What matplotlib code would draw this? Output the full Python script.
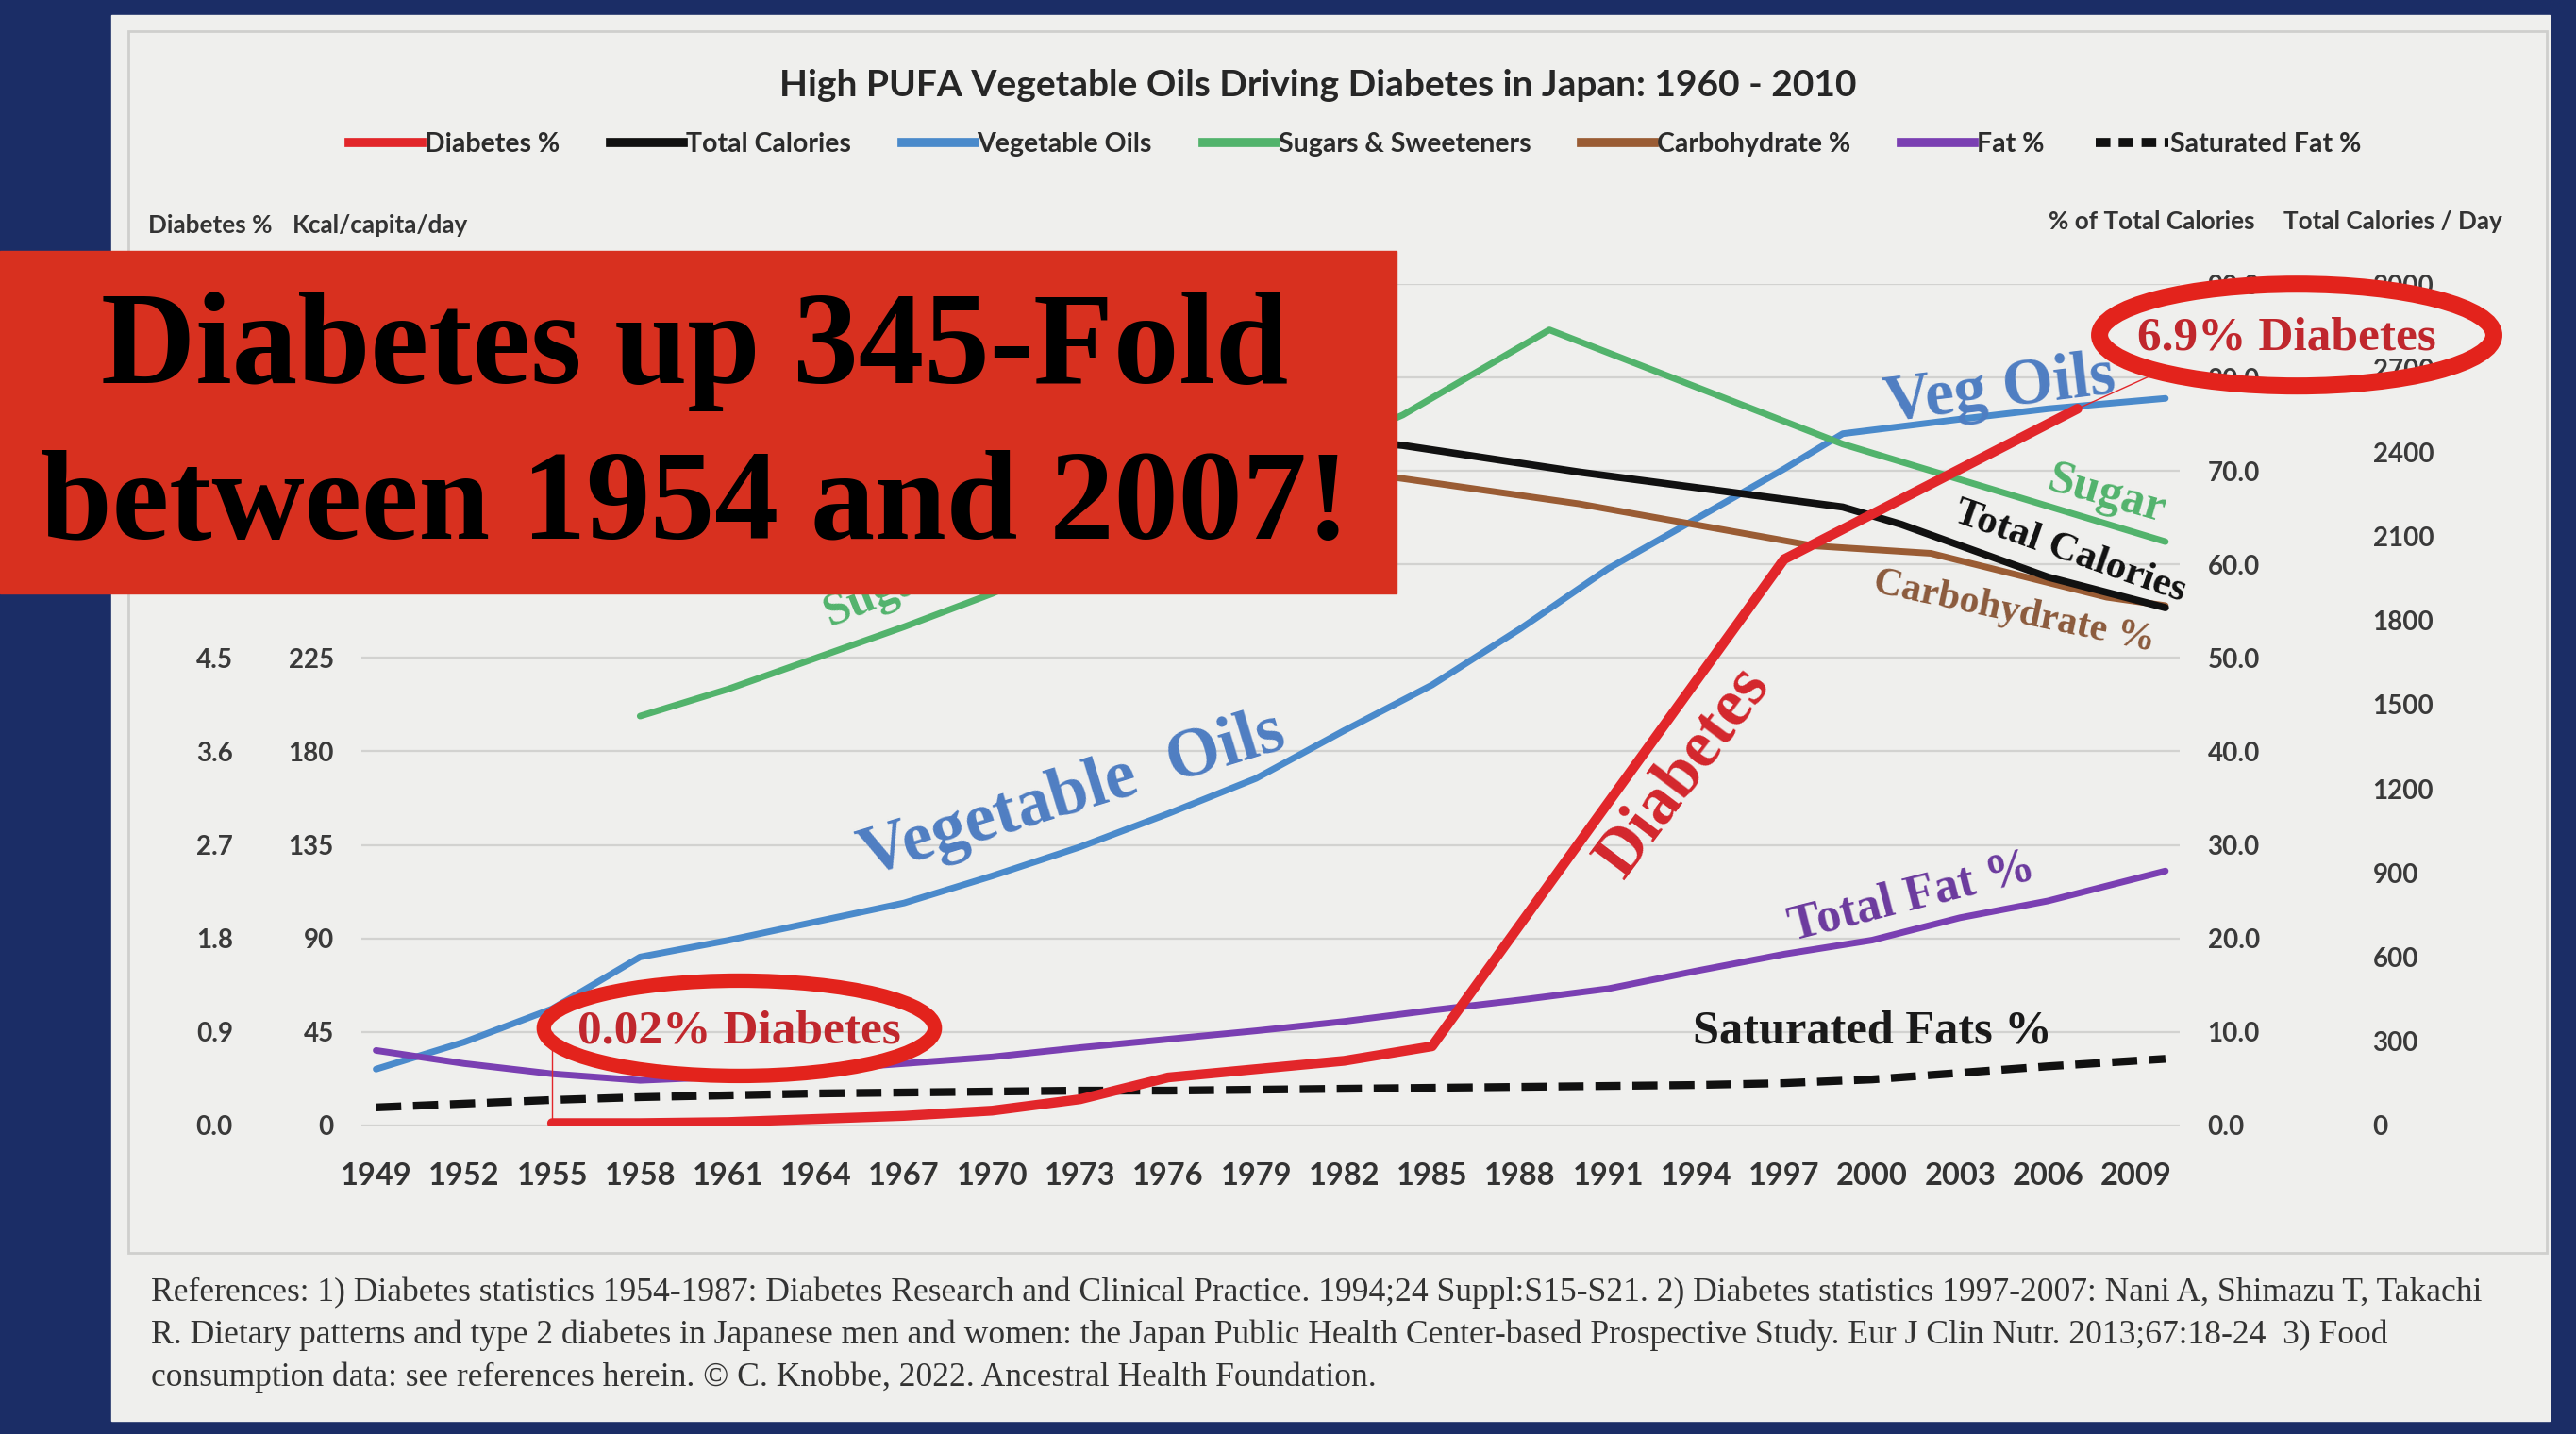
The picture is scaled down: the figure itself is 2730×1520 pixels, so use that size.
import matplotlib
matplotlib.use("Agg")
import matplotlib.pyplot as plt
from matplotlib.patches import Rectangle, Ellipse
from matplotlib.lines import Line2D
from matplotlib.ticker import FuncFormatter

# ---- values (parts hidden under the red banner are guesses) ----
tick_years = list(range(1949, 2010, 3))

diab_years = [1955, 1958, 1961, 1964, 1967, 1970, 1973, 1976, 1979, 1982, 1985, 1997, 2007]
diab_pct = [0.02, 0.02, 0.03, 0.06, 0.09, 0.14, 0.25, 0.46, 0.54, 0.62, 0.76, 5.45, 6.9]

oil_years = [1949, 1952, 1955, 1958, 1961, 1964, 1967, 1970, 1973, 1976, 1979, 1982,
             1985, 1988, 1991, 1994, 1997, 1999, 2003, 2006, 2010]
oil_kcal = [27, 40, 56, 81, 89, 98, 107, 120, 134, 150, 167, 190,
            212, 239, 268, 292, 316, 333, 340, 345, 350]

sugar_years = [1958, 1961, 1964, 1967, 1970, 1984, 1989, 1999, 2010]
sugar_kcal = [197, 210, 225, 240, 256, 342, 383, 328, 281]

cal_years = [1960, 1970, 1984, 1990, 1999, 2001, 2006, 2010]
total_cal = [2600, 2560, 2425, 2330, 2205, 2143, 1955, 1846]

carb_years = [1960, 1970, 1984, 1990, 1998, 2002, 2008, 2010]
carb_pct = [78, 75, 69.2, 66.5, 62, 61.2, 56.5, 55.6]

fat_years = [1949, 1952, 1955, 1958, 1961, 1964, 1967, 1970, 1973, 1976, 1979, 1982,
             1985, 1988, 1991, 1994, 1997, 2000, 2003, 2006, 2010]
fat_pct = [8.0, 6.6, 5.5, 4.8, 5.2, 5.9, 6.6, 7.3, 8.3, 9.2, 10.1, 11.1,
           12.3, 13.4, 14.6, 16.5, 18.3, 19.8, 22.2, 24.0, 27.2]
satfat_pct = [1.9, 2.3, 2.7, 3.0, 3.2, 3.4, 3.5, 3.6, 3.7, 3.7, 3.8, 3.9,
              4.0, 4.1, 4.2, 4.3, 4.5, 4.9, 5.6, 6.3, 7.1]

legend_labels = ['Diabetes %', 'Total Calories', 'Vegetable Oils', 'Sugars & Sweeteners',
                 'Carbohydrate %', 'Fat %', 'Saturated Fat %']

RED = '#e2262a'
BLUE = '#4a8acb'
GREEN = '#52b36c'
BROWN = '#9a5c34'
PURPLE = '#7a3fb2'
BLACK = '#111111'
SERIF = 'Liberation Serif'

plt.rcParams['font.family'] = ['Lato', 'DejaVu Sans']
plt.rcParams['font.weight'] = 'bold'

W, H = 1568, 873   # layout units (reference at reduced size)
fig = plt.figure(figsize=(27.3, 15.2), dpi=100)
fig.patch.set_facecolor('#1b2d66')

def fx(x):
    return x / W

def fy(y):
    return 1 - y / H

# light slide panel behind the chart
bg = fig.add_axes([0, 0, 1, 1], zorder=-5)
bg.set_xlim(0, W)
bg.set_ylim(H, 0)
bg.axis('off')
bg.add_patch(Rectangle((68, 9), 1484, 856, color='#efefed'))
bg.add_patch(Rectangle((78, 19), 1472, 744, fill=False, ec='#cfcfcd', lw=2))

# plot area
L, R, T, B = 220, 1327, 173, 685
ax = fig.add_axes([fx(L), fy(B), fx(R) - fx(L), fy(T) - fy(B)], zorder=1)
ax.patch.set_visible(False)
ax.set_xlim(1948.5, 2010.5)
ax.set_ylim(0, 405)
ax.set_yticks(list(range(0, 406, 45)))
# labels above 225 sit under the banner in the original
ax.yaxis.set_major_formatter(FuncFormatter(lambda v, p: '%d' % v if v <= 226 else ''))
ax.set_xticks(tick_years)
ax.grid(axis='y', color='#d2d2d0', lw=1.6)
ax.set_axisbelow(True)

ax_p = ax.twinx()
ax_p.set_ylim(0, 90)
ax_p.set_yticks([i * 10 for i in range(10)])
ax_p.yaxis.set_major_formatter(FuncFormatter(lambda v, p: '%.1f' % v))

ax_c = ax.twinx()
ax_c.set_ylim(0, 3000)
ax_c.set_yticks([i * 300 for i in range(11)])
ax_c.spines['right'].set_position(('outward', 126))

ax_d = ax.twinx()
ax_d.yaxis.tick_left()
ax_d.spines['left'].set_position(('outward', 77))
ax_d.set_ylim(0, 8.1)
ax_d.set_yticks([i * 0.9 for i in range(10)])
ax_d.yaxis.set_major_formatter(FuncFormatter(lambda v, p: '%.1f' % v if v <= 4.6 else ''))

for z, a in enumerate([ax, ax_p, ax_c, ax_d]):
    a.set_zorder(1 + z)
    a.patch.set_visible(False)
    for s in a.spines.values():
        s.set_visible(False)
    a.tick_params(axis='y', length=0, labelsize=20, labelcolor='#3a3a3a', pad=21)
ax.tick_params(axis='x', length=0, labelsize=23.5, labelcolor='#333333', pad=28)

# series
ax.plot(oil_years, oil_kcal, color=BLUE, lw=5, solid_capstyle='round')
ax.plot(sugar_years, sugar_kcal, color=GREEN, lw=5, solid_capstyle='round')
ax_p.plot(carb_years, carb_pct, color=BROWN, lw=5, solid_capstyle='round')
ax_p.plot(fat_years, fat_pct, color=PURPLE, lw=5, solid_capstyle='round')
ax_p.plot(fat_years, satfat_pct, color=BLACK, lw=6, ls=(0, (3.2, 1.5)))
ax_c.plot(cal_years, total_cal, color=BLACK, lw=5.5, solid_capstyle='round')
ax_d.plot(diab_years, diab_pct, color=RED, lw=7.5, solid_capstyle='round')
# thin pen stroke tying the left call-out to the start of the diabetes line
ax_d.plot([diab_years[0], diab_years[0]], [diab_pct[0], 0.9], color=RED, lw=1)

# overlay for texts and hand-drawn call-outs
ov = fig.add_axes([0, 0, 1, 1], zorder=10)
ov.set_xlim(0, W)
ov.set_ylim(H, 0)
ov.axis('off')

ax_d.annotate('', xy=(diab_years[-1], diab_pct[-1]), xytext=(1313, 227),
              textcoords=ov.transData,
              arrowprops=dict(arrowstyle='-', color=RED, lw=1))

# legend
handles = [Line2D([], [], color=RED, lw=7),
           Line2D([], [], color=BLACK, lw=7),
           Line2D([], [], color=BLUE, lw=7),
           Line2D([], [], color=GREEN, lw=7),
           Line2D([], [], color=BROWN, lw=7),
           Line2D([], [], color=PURPLE, lw=7),
           Line2D([], [], color=BLACK, lw=7, ls=(0, (1.6, 0.9)))]
fig.legend(handles, legend_labels, ncol=7, loc='center', bbox_to_anchor=(fx(825), fy(88)),
           frameon=False, fontsize=20.5, handlelength=2.7, handletextpad=0.1,
           columnspacing=1.9, labelcolor='#2b2b2b')

ov.text(802, 52, 'High PUFA Vegetable Oils Driving Diabetes in Japan: 1960 - 2010',
        fontsize=28, ha='center', va='center', color='#262626')
hdr = dict(fontsize=18.8, va='center', ha='left', color='#333333')
ov.text(90, 137, 'Diabetes %', **hdr)
ov.text(178, 137, 'Kcal/capita/day', **hdr)
ov.text(1247, 135, '% of Total Calories', **hdr)
ov.text(1390, 135, 'Total Calories / Day', **hdr)

# labels written on the chart
lab = dict(family=SERIF, weight='bold', ha='center', va='center', rotation_mode='anchor')
ov.text(505, 381, 'Sugars', color=GREEN, fontsize=36, rotation=22,
        family=SERIF, weight='bold', ha='left', va='baseline', rotation_mode='anchor')
ov.text(653, 484, 'Vegetable  Oils', color='#4f7ec2', fontsize=53, rotation=17, **lab)
ov.text(1025, 470, 'Diabetes', color='#d3262c', fontsize=51, rotation=53, **lab)
ov.text(1217, 238, 'Veg Oils', color='#4f7ec2', fontsize=50, rotation=7, **lab)
ov.text(1282, 301, 'Sugar', color=GREEN, fontsize=36, rotation=-16, **lab)
ov.text(1260, 336, 'Total Calories', color=BLACK, fontsize=31, rotation=-19.4, **lab)
ov.text(1226, 373, 'Carbohydrate %', color='#8b5a3c', fontsize=30, rotation=-12, **lab)
ov.text(1164, 546, 'Total Fat %', color='#6b3a9e', fontsize=37.5, rotation=14.3, **lab)
ov.text(1140, 628, 'Saturated Fats %', color='#1a1a1a', fontsize=36.3, rotation=0, **lab)

# circled call-outs
ov.add_patch(Ellipse((450, 626), 238, 58, fill=False, ec='#e3231c', lw=11, zorder=6))
ov.text(450, 628, '0.02% Diabetes', color='#c0272d', fontsize=37, zorder=7, **lab)
ov.add_patch(Ellipse((1398, 204), 240, 62, fill=False, ec='#e3231c', lw=13, zorder=6))
ov.text(1392, 206, '6.9% Diabetes', color='#c0272d', fontsize=37, zorder=7, **lab)

# red banner
ov.add_patch(Rectangle((0, 153), 850, 208, color='#d8301f', zorder=20))
ov.text(423, 233, 'Diabetes up 345-Fold', fontsize=100, family=SERIF, weight='bold',
        ha='center', va='baseline', color='black', zorder=21)
ov.text(423, 328, 'between 1954 and 2007!', fontsize=98, family=SERIF, weight='bold',
        ha='center', va='baseline', color='black', zorder=21)

# references
refs = ['References: 1) Diabetes statistics 1954-1987: Diabetes Research and Clinical Practice. '
        '1994;24 Suppl:S15-S21. 2) Diabetes statistics 1997-2007: Nani A, Shimazu T, Takachi',
        'R. Dietary patterns and type 2 diabetes in Japanese men and women: the Japan Public '
        'Health Center-based Prospective Study. Eur J Clin Nutr. 2013;67:18-24  3) Food',
        'consumption data: see references herein. \u00a9 C. Knobbe, 2022. Ancestral Health Foundation.']
for i, line in enumerate(refs):
    ov.text(92, 787 + 25.7 * i, line, family=SERIF, weight='normal', fontsize=25.6,
            ha='left', va='center', color='#333333')

fig.savefig('out.png', dpi=100, facecolor=fig.get_facecolor())
